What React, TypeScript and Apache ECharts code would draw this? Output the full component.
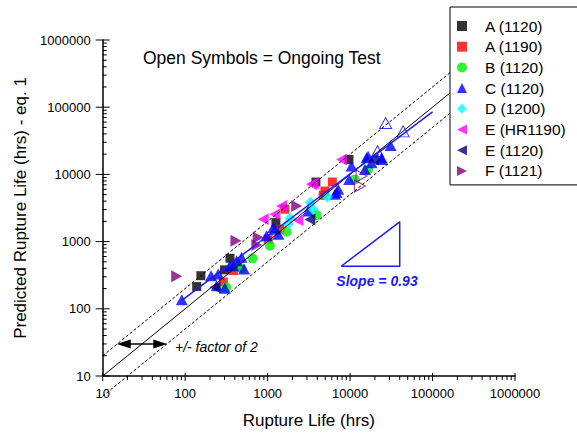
import React, { useEffect, useRef } from "react";
import * as echarts from "echarts";

// Measured vs predicted rupture life (hours), per heat / alloy
const a1120 = [[138, 214], [155, 311], [300, 380], [350, 565], [1260, 1920], [3850, 7700], [9700, 16700]];
const a1190 = [[290, 250], [385, 370], [1016, 1089], [1409, 1531], [1620, 3030], [4720, 4890], [4955, 5660], [6100, 7700]];
const b1120 = [[315, 209], [441, 415], [484, 401], [658, 564], [1067, 867], [1698, 1400], [3926, 2480], [11430, 8430], [16560, 11860]];
const c1120 = [
  [91, 136], [206, 311], [252, 330], [241, 221], [303, 203], [349, 438], [385, 438], [421, 520], [484, 583], [517, 392],
  [972, 1219], [1169, 1622], [1227, 1531], [1352, 1291], [3105, 2858], [6550, 5060], [6855, 5360], [7180, 5995],
  [9750, 8430], [10420, 13280], [15140, 11860], [15850, 17660], [16560, 18680], [18240, 14890], [24100, 16680],
  [24100, 17660], [31000, 27000],
];
const c1120Open = [[27000, 58000], [44000, 43700], [21500, 22100]];
const d1200 = [[1780, 1820], [1880, 2230], [3300, 3810], [3570, 3030], [5300, 4650]];
const eHr1190 = [[885, 2150], [1225, 2555], [1480, 3390], [2330, 2070], [3410, 7110], [3570, 7360], [7890, 16680]];
const e1120 = [[230, 209], [3260, 2130], [19050, 16680]];
const f1121 = [[79, 305], [413, 1030], [740, 890], [770, 1150], [2250, 3390]];
const f1121Open = [[13770, 9440], [13150, 6710]];

// Reference lines: 1:1, factor-of-2 band, fitted trend and slope triangle
const unityLine = [[10, 10], [1000000, 1000000]];
const upperBand = [[10, 20], [500000, 1000000]];
const lowerBand = [[10, 5], [1000000, 500000]];
const fitLine = [[92, 135], [100000, 85000]];
const slopeTriangle = [[7800, 430], [40000, 430], [40000, 1970], [7800, 430]];
const factorArrow = { y: 30, from: 18, to: 50 };

// Axis ticks
const decadeTicks = [10, 100, 1000, 10000, 100000, 1000000];
const minorMultipliers = [2, 3, 4, 5, 6, 7, 8, 9];

const legendNames = ["A (1120)", "A (1190)", "B (1120)", "C (1120)", "D (1200)", "E (HR1190)", "E (1120)", "F (1121)"];

const FONT = '"Liberation Sans", Arial, Helvetica, sans-serif';
// Marker outlines as paths so that legend icons keep their aspect ratio
const SQUARE = "path://M0,0L10,0L10,10L0,10Z";
const UP_TRI = "path://M5,0L10,10L0,10Z";
const DIAMOND = "path://M5,0L10,5L5,10L0,5Z";
const LEFT_TRI = "path://M10,0L0,5L10,10Z";
const RIGHT_TRI = "path://M0,0L10,5L0,10Z";

function scatter(name: string, data: number[][], symbol: string, color: string, size: number | number[], hollow = false) {
  return {
    type: "scatter",
    name,
    data,
    symbol,
    symbolSize: size,
    z: 2,
    itemStyle: hollow
      ? { color: "rgba(255,255,255,0)", borderColor: color, borderWidth: 1 }
      : { color },
    emphasis: { disabled: true },
  };
}

function refLine(data: number[][], color: string, width: number, type: any, z = 3) {
  return {
    type: "line",
    data,
    symbol: "none",
    clip: false,
    silent: true,
    z,
    lineStyle: { color, width, type },
  };
}

export default function App() {
  const ref = useRef<HTMLDivElement>(null);

  useEffect(() => {
    if (!ref.current) return;
    const chart = echarts.init(ref.current, undefined, { renderer: "svg" });

    const xTicks: number[][] = [];
    const yTicks: number[][] = [];
    decadeTicks.forEach((d, i) => {
      xTicks.push([d, 10, 1]);
      yTicks.push([10, d, 1]);
      if (i < decadeTicks.length - 1) {
        minorMultipliers.forEach((m) => {
          xTicks.push([d * m, 10, 0]);
          yTicks.push([10, d * m, 0]);
        });
      }
    });

    const axisCommon = {
      type: "log",
      logBase: 10,
      min: 10,
      max: 1000000,
      splitNumber: 5,
      axisLine: { show: true, lineStyle: { color: "#000", width: 1.5 } },
      axisTick: { show: false },
      splitLine: { show: false },
      nameLocation: "middle",
      nameTextStyle: { fontSize: 17, color: "#000", fontFamily: FONT },
    };

    chart.setOption({
      animation: false,
      backgroundColor: "#fff",
      textStyle: { fontFamily: FONT },
      grid: { left: 102.7, right: 62, top: 40, bottom: 56.5 },
      xAxis: {
        ...axisCommon,
        name: "Rupture Life (hrs)",
        nameGap: 36,
        axisLabel: {
          margin: 11,
          fontSize: 13,
          color: "#000",
          fontFamily: FONT,
          formatter: (v: number) => String(Math.round(v)),
        },
      },
      yAxis: {
        ...axisCommon,
        name: "Predicted Rupture Life (hrs) - eq. 1",
        nameGap: 74,
        axisLabel: {
          margin: 12,
          fontSize: 13,
          color: "#000",
          fontFamily: FONT,
          formatter: (v: number) => String(Math.round(v)),
        },
      },
      legend: {
        data: legendNames,
        orient: "vertical",
        left: 450,
        top: 7,
        padding: [11, 30, 6, 7],
        itemWidth: 36,
        itemHeight: 10,
        itemGap: 4.7,
        symbolKeepAspect: true,
        backgroundColor: "#fff",
        borderColor: "#000",
        borderWidth: 1,
        selectedMode: false,
        textStyle: { fontSize: 15.5, lineHeight: 15, color: "#000", fontFamily: FONT },
      },
      graphic: [
        {
          type: "text",
          x: 143,
          y: 58,
          style: {
            text: "Open Symbols = Ongoing Test",
            font: `17.5px ${FONT}`,
            fill: "#000",
            textVerticalAlign: "middle",
            verticalAlign: "middle",
          },
        },
        {
          type: "text",
          x: 175,
          y: 347,
          style: {
            text: "+/- factor of 2",
            font: `italic 14px ${FONT}`,
            fill: "#000",
            textVerticalAlign: "middle",
            verticalAlign: "middle",
          },
        },
        {
          type: "text",
          x: 377,
          y: 281,
          style: {
            text: "Slope = 0.93",
            font: `italic bold 14px ${FONT}`,
            fill: "#1a1aff",
            textAlign: "center",
            align: "center",
            textVerticalAlign: "middle",
            verticalAlign: "middle",
          },
        },
      ],
      series: [
        scatter("A (1120)", a1120, SQUARE, "#000000", 9),
        scatter("A (1190)", a1190, SQUARE, "#ff0000", 9),
        scatter("B (1120)", b1120, "circle", "#00ee00", 10),
        scatter("C (1120)", c1120, UP_TRI, "#0000ff", [12, 11]),
        scatter("C (1120)", c1120Open, UP_TRI, "#0000ff", [12, 11], true),
        scatter("D (1200)", d1200, DIAMOND, "#00ffff", [11, 12]),
        scatter("E (HR1190)", eHr1190, LEFT_TRI, "#ff00ff", [11, 12]),
        scatter("E (1120)", e1120, LEFT_TRI, "#000080", [11, 12]),
        scatter("F (1121)", f1121, RIGHT_TRI, "#800080", [11, 12]),
        scatter("F (1121)", f1121Open, RIGHT_TRI, "#800080", [11, 12], true),
        refLine(upperBand, "#000", 1, [3, 2]),
        refLine(lowerBand, "#000", 1, [3, 2]),
        refLine(unityLine, "#000", 1, "solid"),
        refLine(fitLine, "#1a1aff", 1.5, "solid", 4),
        refLine(slopeTriangle, "#1a1aff", 1.5, "solid", 4),
        {
          type: "line",
          data: [],
          silent: true,
          z: 4,
          markLine: {
            silent: true,
            symbol: ["triangle", "triangle"],
            symbolSize: [9, 14],
            label: { show: false },
            lineStyle: { color: "#000", width: 1.5, type: "solid" },
            data: [[{ coord: [factorArrow.from, factorArrow.y] }, { coord: [factorArrow.to, factorArrow.y] }]],
          },
        },
        {
          type: "custom",
          coordinateSystem: "cartesian2d",
          data: xTicks,
          clip: false,
          silent: true,
          z: 5,
          encode: { x: 0, y: 1 },
          renderItem: (_p: any, api: any) => {
            const pt = api.coord([api.value(0), api.value(1)]);
            const major = api.value(2) === 1;
            return {
              type: "line",
              shape: { x1: pt[0], y1: pt[1] - (major ? 3 : 0), x2: pt[0], y2: pt[1] + (major ? 5 : 4) },
              style: { stroke: "#000", lineWidth: 1 },
            };
          },
        },
        {
          type: "custom",
          coordinateSystem: "cartesian2d",
          data: yTicks,
          clip: false,
          silent: true,
          z: 5,
          encode: { x: 0, y: 1 },
          renderItem: (_p: any, api: any) => {
            const pt = api.coord([api.value(0), api.value(1)]);
            const major = api.value(2) === 1;
            return {
              type: "line",
              shape: { x1: pt[0] - (major ? 7 : 0), y1: pt[1], x2: pt[0] + (major ? 7 : 4), y2: pt[1] },
              style: { stroke: "#000", lineWidth: 1 },
            };
          },
        },
      ],
    });

    return () => chart.dispose();
  }, []);

  return (
    <div
      ref={ref}
      style={{ position: "fixed", left: 0, top: 0, width: 577, height: 434, background: "#fff" }}
    />
  );
}
